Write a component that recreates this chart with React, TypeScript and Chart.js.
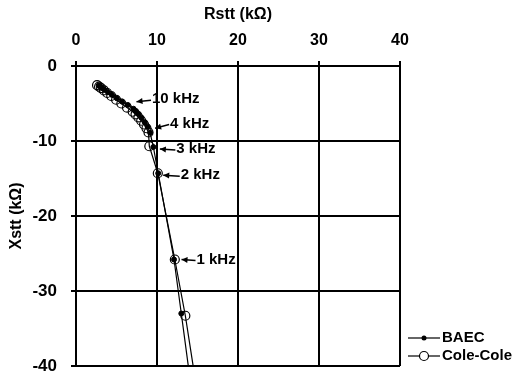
import React, { useEffect, useRef } from "react";
import { Chart, registerables } from "chart.js";

Chart.register(...registerables);

// Frequencies (kHz) of the measured points, high to low
const freqKHz = [100, 90, 80, 70, 60, 50, 40, 30, 20, 10, 9, 8, 7, 6, 5, 4, 3, 2, 1, 0.75, 0.5];

// BAEC series: resistance Rstt (kΩ) and reactance Xstt (kΩ)
const baecR = [2.8, 3.0, 3.25, 3.55, 3.95, 4.45, 5.05, 5.7, 6.4, 7.1, 7.4, 7.75, 8.1, 8.5, 8.85, 9.15, 9.55, 10.15, 12.1, 13.0, 15.1];
const baecX = [-2.6, -2.75, -2.95, -3.2, -3.5, -3.85, -4.3, -4.75, -5.2, -5.7, -6.0, -6.4, -6.9, -7.5, -8.1, -8.9, -10.8, -14.3, -25.8, -33.0, -50];

// Cole-Cole fit series
const coleR = [2.6, 2.85, 3.1, 3.45, 3.85, 4.35, 4.95, 5.6, 6.3, 7.0, 7.35, 7.7, 8.05, 8.4, 8.7, 8.95, 9.05, 10.1, 12.2, 13.5, 15.9];
const coleX = [-2.55, -2.75, -2.95, -3.25, -3.6, -4.0, -4.5, -5.0, -5.55, -6.1, -6.45, -6.85, -7.3, -7.8, -8.3, -8.85, -10.7, -14.3, -25.8, -33.3, -50];

// Axis ticks
const xTicks = [0, 10, 20, 30, 40];
const yTicks = [0, -10, -20, -30, -40];

// Annotated frequencies
const annotatedFreqs = [10, 4, 3, 2, 1];
const annotationText = ["10 kHz", "4 kHz", "3 kHz", "2 kHz", "1 kHz"];
// styling offsets (px) for the arrow tip and text start, relative to the point
const annTip = [[3, -7], [5, -4.5], [6.5, 2], [5, 2], [7.5, 0]];
const annText = [[18.5, -9.6], [20, -9.3], [23, 2], [22.5, 2], [22.5, 0]];

const FONT = "'Liberation Sans', Arial, Helvetica, sans-serif";

export default function App() {
  const ref = useRef<HTMLCanvasElement | null>(null);

  useEffect(() => {
    if (!ref.current) return;

    const annotationPlugin = {
      id: "freqAnnotations",
      afterDatasetsDraw(chart: any) {
        const ctx = chart.ctx;
        const xs = chart.scales.x;
        const ys = chart.scales.y;
        ctx.save();
        ctx.fillStyle = "#000";
        ctx.strokeStyle = "#000";
        ctx.lineWidth = 1.5;
        ctx.font = `bold 15px ${FONT}`;
        ctx.textBaseline = "middle";
        ctx.textAlign = "left";
        annotatedFreqs.forEach((f, i) => {
          const idx = freqKHz.indexOf(f);
          const px = xs.getPixelForValue(baecR[idx]);
          const py = ys.getPixelForValue(baecX[idx]);
          const tx = px + annTip[i][0];
          const ty = py + annTip[i][1];
          const sx = px + annText[i][0];
          const sy = py + annText[i][1];
          const lx = sx - 1;
          const ly = sy + 1;
          ctx.beginPath();
          ctx.moveTo(lx, ly);
          ctx.lineTo(tx, ty);
          ctx.stroke();
          const ang = Math.atan2(ty - ly, tx - lx);
          const hl = 6;
          const hw = 3;
          ctx.beginPath();
          ctx.moveTo(tx, ty);
          ctx.lineTo(tx - hl * Math.cos(ang) + hw * Math.sin(ang), ty - hl * Math.sin(ang) - hw * Math.cos(ang));
          ctx.lineTo(tx - hl * Math.cos(ang) - hw * Math.sin(ang), ty - hl * Math.sin(ang) + hw * Math.cos(ang));
          ctx.closePath();
          ctx.fill();
          ctx.fillText(annotationText[i], sx, sy);
        });
        ctx.restore();
      },
    };

    const legendPlugin = {
      id: "customLegend",
      afterDraw(chart: any) {
        const ctx = chart.ctx;
        const area = chart.chartArea;
        const x0 = area.right + 8;
        const rows = [area.bottom - 28, area.bottom - 10];
        ctx.save();
        ctx.font = `bold 15px ${FONT}`;
        ctx.textBaseline = "middle";
        ctx.textAlign = "left";
        chart.data.datasets.forEach((ds: any, i: number) => {
          const y = rows[i];
          ctx.strokeStyle = "#000";
          ctx.lineWidth = 1.2;
          ctx.beginPath();
          ctx.moveTo(x0, y);
          ctx.lineTo(x0 + 32, y);
          ctx.stroke();
          ctx.beginPath();
          ctx.arc(x0 + 16, y, ds.pointRadius, 0, Math.PI * 2);
          if (ds.label === "BAEC") {
            ctx.fillStyle = "#000";
            ctx.fill();
          } else {
            ctx.fillStyle = "#fff";
            ctx.fill();
            ctx.stroke();
          }
          ctx.fillStyle = "#000";
          ctx.fillText(ds.label, x0 + 34, y);
        });
        ctx.restore();
      },
    };

    const chart = new Chart(ref.current, {
      type: "scatter",
      data: {
        datasets: [
          {
            label: "BAEC",
            data: baecR.map((r, i) => ({ x: r, y: baecX[i] })),
            showLine: true,
            borderColor: "#000",
            borderWidth: 1.2,
            pointRadius: 2.5,
            pointBackgroundColor: "#000",
            pointBorderColor: "#000",
            pointBorderWidth: 1,
          },
          {
            label: "Cole-Cole",
            data: coleR.map((r, i) => ({ x: r, y: coleX[i] })),
            showLine: true,
            borderColor: "#000",
            borderWidth: 1.2,
            pointRadius: 4.5,
            pointBackgroundColor: "rgba(255,255,255,0)",
            pointBorderColor: "#000",
            pointBorderWidth: 1.2,
          },
        ],
      },
      options: {
        responsive: false,
        animation: false,
        layout: { padding: { left: 0, top: 0, right: 123, bottom: 7 } },
        plugins: {
          legend: { display: false },
          tooltip: { enabled: false },
        },
        scales: {
          x: {
            type: "linear",
            position: "top",
            min: 0,
            max: 40,
            afterBuildTicks: (scale: any) => {
              scale.ticks = xTicks.map((v) => ({ value: v }));
            },
            afterFit: (scale: any) => {
              scale.height = 66;
              scale.paddingLeft = 0;
              scale.paddingRight = 0;
            },
            ticks: {
              color: "#000",
              font: { family: FONT, size: 16, weight: "bold" },
              padding: 11,
            },
            grid: { color: "#000", lineWidth: 2, tickLength: 5, drawTicks: true },
            border: { display: true, color: "#000", width: 2 },
            title: {
              display: true,
              text: "Rstt (kΩ)",
              color: "#000",
              font: { family: FONT, size: 16, weight: "bold" },
              padding: { top: 5, bottom: 0 },
            },
          },
          y: {
            type: "linear",
            min: -40,
            max: 0,
            afterBuildTicks: (scale: any) => {
              scale.ticks = yTicks.map((v) => ({ value: v }));
            },
            afterFit: (scale: any) => {
              scale.width = 76;
              scale.paddingTop = 0;
              scale.paddingBottom = 0;
            },
            ticks: {
              color: "#000",
              font: { family: FONT, size: 17, weight: "bold" },
              padding: 14,
            },
            grid: { color: "#000", lineWidth: 2, tickLength: 5, drawTicks: true },
            border: { display: true, color: "#000", width: 2 },
            title: {
              display: true,
              text: "Xstt (kΩ)",
              color: "#000",
              font: { family: FONT, size: 16, weight: "bold" },
              padding: { top: 7, bottom: 0 },
            },
          },
        },
      },
      plugins: [annotationPlugin, legendPlugin],
    } as any);

    return () => chart.destroy();
  }, []);

  return (
    <div style={{ position: "absolute", left: 0, top: 0, width: 523, height: 373, background: "#fff" }}>
      <canvas ref={ref} width={523} height={373} style={{ display: "block", width: 523, height: 373 }} />
    </div>
  );
}
